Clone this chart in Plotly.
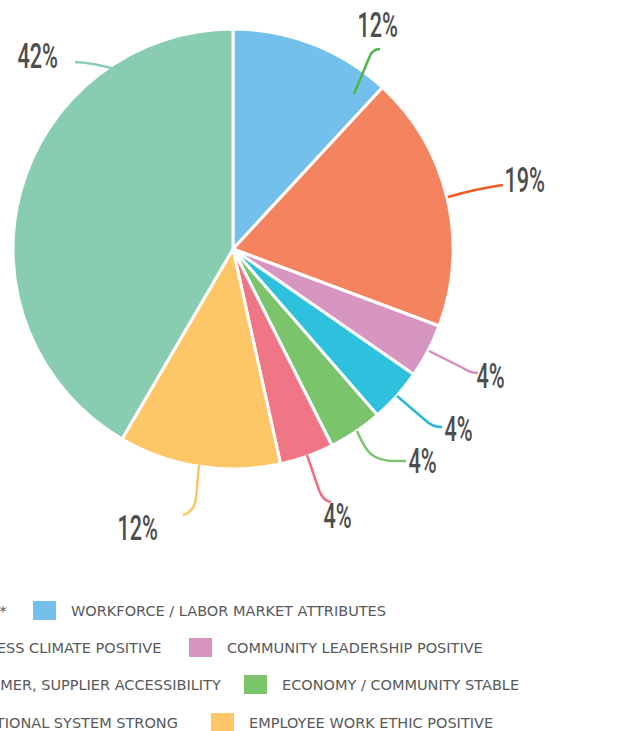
import plotly.graph_objects as go

W, H = 623, 731

# ---- data ----
labels = ["WORKFORCE / LABOR MARKET ATTRIBUTES", "BUSINESS CLIMATE POSITIVE",
          "COMMUNITY LEADERSHIP POSITIVE", "CUSTOMER, SUPPLIER ACCESSIBILITY",
          "ECONOMY / COMMUNITY STABLE", "EDUCATIONAL SYSTEM STRONG",
          "EMPLOYEE WORK ETHIC POSITIVE", "OTHER*"]
values = [12, 19, 4, 4, 4, 4, 12, 42]
colors = ["#74C0EC", "#F4845F", "#D796C2", "#2EC1DE", "#7BC46C", "#F07686", "#FDC666", "#88CDB0"]
line_colors = ["#4CB848", "#F15A24", "#D48FC0", "#29B9D9", "#7DC36F", "#EE6F80", "#FDC566", "#88CDB0"]

# legend rows (indices into labels)
legend_rows = [(7, 0), (1, 2), (3, 4), (5, 6)]

# ---- layout helpers (pixel positions) ----
def px(x, y):
    return x / W, 1 - y / H

cx, cy, R = 233, 249, 220

fig = go.Figure()
fig.add_trace(go.Pie(
    labels=labels, values=values, sort=False, direction="clockwise", rotation=0,
    marker=dict(colors=colors, line=dict(color="white", width=3)),
    textinfo="none", hoverinfo="label+percent",
    domain=dict(x=[(cx - R) / W, (cx + R) / W], y=[1 - (cy + R) / H, 1 - (cy - R) / H]),
))

# label placements and leader-line paths in pixels
label_pos = [(377, 25), (524, 180), (490, 376), (458, 429), (423, 461), (337, 516), (137, 528), (37, 56)]
leader_paths = [
    [("M", 354, 94), ("L", 369, 58), ("Q", 372, 49, 380, 49)],
    [("M", 448, 197), ("Q", 475, 189, 503, 185)],
    [("M", 429, 351), ("L", 463, 368), ("Q", 470, 373, 478, 373)],
    [("M", 397, 396), ("L", 425, 420), ("Q", 432, 427, 442, 427)],
    [("M", 357, 431), ("C", 366, 452, 372, 461, 395, 461), ("L", 406, 461)],
    [("M", 307, 455), ("L", 319, 490), ("Q", 323, 501, 331, 502)],
    [("M", 199, 465), ("L", 196, 498), ("Q", 194, 512, 183, 515)],
    [("M", 75, 62), ("Q", 95, 63, 118, 70)],
]

def to_path(cmds):
    out = []
    for c in cmds:
        pts = c[1:]
        coords = []
        for i in range(0, len(pts), 2):
            x, y = px(pts[i], pts[i + 1])
            coords.append(f"{x:.5f},{y:.5f}")
        out.append(c[0] + " " + " ".join(coords))
    return " ".join(out)

pct_font = dict(family="Roboto, sans-serif", size=36, weight=500, color="#4D4D4D")
for i, v in enumerate(values):
    fig.add_shape(type="path", xref="paper", yref="paper", path=to_path(leader_paths[i]),
                  line=dict(color=line_colors[i], width=2.5))
    x, y = px(*label_pos[i])
    fig.add_annotation(x=x, y=y, xref="paper", yref="paper", text=f"{v}%", showarrow=False,
                       xanchor="center", yanchor="middle", font=pct_font)

# manual legend (cropped at left edge)
leg_font = dict(family="DejaVu Sans, sans-serif", size=14.5, color="#58595B")
row_y = [611, 648, 685, 723]
left_text_end = [9, 163, 223, 180]
right_swatch_x = [33, 189, 244, 211]
for r, (li, ri) in enumerate(legend_rows):
    y = row_y[r]
    x, yy = px(left_text_end[r], y)
    fig.add_annotation(x=x, y=yy, xref="paper", yref="paper", text=labels[li], showarrow=False,
                       xanchor="right", yanchor="middle", font=leg_font)
    sx = right_swatch_x[r]
    x0, y0 = px(sx, y - 10)
    x1, y1 = px(sx + 23, y + 9)
    fig.add_shape(type="rect", xref="paper", yref="paper", x0=x0, x1=x1, y0=y1, y1=y0,
                  fillcolor=colors[ri], line=dict(width=0))
    x, yy = px(sx + 36, y)
    fig.add_annotation(x=x, y=yy, xref="paper", yref="paper", text=labels[ri], showarrow=False,
                       xanchor="left", yanchor="middle", font=leg_font)

fig.update_layout(width=W, height=H, margin=dict(l=0, r=0, t=0, b=0), showlegend=False,
                  paper_bgcolor="white", plot_bgcolor="white")

# page tweaks: no body margin; narrow (condensed look) percentage labels
post = """
document.body.style.margin='0';
document.body.style.overflow='hidden';
document.querySelectorAll('text.annotation-text').forEach(function(t){
  if (/%$/.test(t.textContent)) {
    t.style.transformBox='fill-box';
    t.style.transformOrigin='center';
    t.style.transform='scaleX(0.6)';
  }
});
"""
fig.write_html("out.html", config={"displayModeBar": False}, post_script=post)
